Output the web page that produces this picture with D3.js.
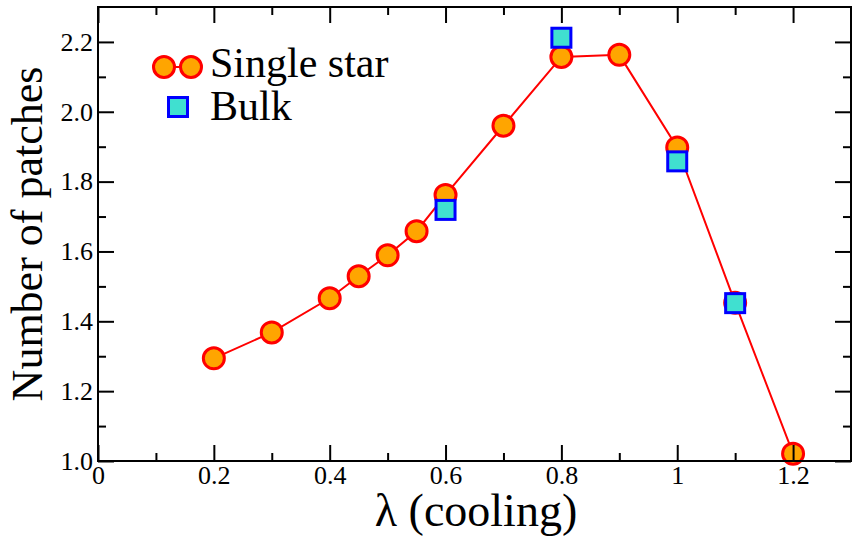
<!DOCTYPE html>
<html>
<head>
<meta charset="utf-8">
<script src="https://cdn.jsdelivr.net/npm/d3@7"></script>
<style>
  body { margin: 0; background: #fff; }
  svg { display: block; font-family: "Liberation Serif", "Times New Roman", serif; }
  .tick text { font-size: 26px; fill: #000; font-family: "Liberation Serif", "Times New Roman", serif; }
  .tick line { stroke: #000; stroke-width: 2; }
</style>
</head>
<body>
<script>
// single star curve
const singleX = [0.2, 0.3, 0.4, 0.45, 0.5, 0.55, 0.6, 0.7, 0.8, 0.9, 1.0, 1.1, 1.2]
const singleY = [1.294, 1.368, 1.466, 1.529, 1.589, 1.658, 1.762, 1.960, 2.157, 2.163, 1.898, 1.453, 1.021]
// bulk points
const bulkX = [0.6, 0.8, 1.0, 1.1]
const bulkY = [1.719, 2.212, 1.858, 1.452]
// ticks
const xTicks = [0, 0.2, 0.4, 0.6, 0.8, 1.0, 1.2]
const xMinor = [0.1, 0.3, 0.5, 0.7, 0.9, 1.1]
const yTicks = [1.0, 1.2, 1.4, 1.6, 1.8, 2.0, 2.2]
const yMinor = [1.1, 1.3, 1.5, 1.7, 1.9, 2.1]

const w = 855
const h = 537
const pL = 98, pR = 851, pT = 7, pB = 461

const xScale = d3.scaleLinear().domain([0, 1.3]).range([pL, pR])
const yScale = d3.scaleLinear().domain([1.0, 2.3]).range([pB, pT])

const svg = d3.select('body').append('svg')
    .attr('width', w)
    .attr('height', h)

const single = singleX.map((x, i) => ({ x: x, y: singleY[i] }))
const bulk = bulkX.map((x, i) => ({ x: x, y: bulkY[i] }))

// red line
svg.append('path')
    .datum(single)
    .attr('fill', 'none')
    .attr('stroke', '#ff0000')
    .attr('stroke-width', 2)
    .attr('d', d3.line().x(d => xScale(d.x)).y(d => yScale(d.y)))

// circles
svg.selectAll('circle.single')
    .data(single)
    .enter()
    .append('circle')
    .attr('class', 'single')
    .attr('cx', d => xScale(d.x))
    .attr('cy', d => yScale(d.y))
    .attr('r', 10.5)
    .style('fill', '#ffa500')
    .style('stroke', '#ff0000')
    .style('stroke-width', 3)

// squares
const sq = 19
svg.selectAll('rect.bulk')
    .data(bulk)
    .enter()
    .append('rect')
    .attr('class', 'bulk')
    .attr('x', d => xScale(d.x) - sq / 2)
    .attr('y', d => yScale(d.y) - sq / 2)
    .attr('width', sq)
    .attr('height', sq)
    .style('fill', '#40e0d0')
    .style('stroke', '#0000ff')
    .style('stroke-width', 3)

// axes, ticks pointing inward on all four sides
function addAxis(axis, tx, ty, labels) {
    const g = svg.append('g')
        .attr('transform', `translate(${tx},${ty})`)
        .call(axis)
    g.select('.domain').remove()
    if (!labels) g.selectAll('text').remove()
    return g
}

addAxis(d3.axisBottom(xScale).tickValues(xTicks).tickSize(-16).tickPadding(5).tickFormat(d3.format('')), 0, pB, true)
addAxis(d3.axisBottom(xScale).tickValues(xMinor).tickSize(-8), 0, pB, false)
addAxis(d3.axisTop(xScale).tickValues(xTicks).tickSize(-16), 0, pT, false)
addAxis(d3.axisTop(xScale).tickValues(xMinor).tickSize(-8), 0, pT, false)

addAxis(d3.axisLeft(yScale).tickValues(yTicks).tickSize(-16).tickPadding(5).tickFormat(d3.format('.1f')), pL, 0, true)
addAxis(d3.axisLeft(yScale).tickValues(yMinor).tickSize(-8), pL, 0, false)
addAxis(d3.axisRight(yScale).tickValues(yTicks).tickSize(-16), pR, 0, false)
addAxis(d3.axisRight(yScale).tickValues(yMinor).tickSize(-8), pR, 0, false)

// frame
svg.append('rect')
    .attr('x', pL)
    .attr('y', pT)
    .attr('width', pR - pL)
    .attr('height', pB - pT)
    .style('fill', 'none')
    .style('stroke', '#000')
    .style('stroke-width', 2)

// axis labels
svg.append('text')
    .attr('x', 476)
    .attr('y', 526)
    .attr('text-anchor', 'middle')
    .style('font-size', '46px')
    .text('λ (cooling)')

svg.append('text')
    .attr('transform', 'translate(42,234) rotate(-90)')
    .attr('text-anchor', 'middle')
    .style('font-size', '44px')
    .text('Number of patches')

// legend
const lgX = 164, lgY = 67
svg.append('line')
    .attr('x1', lgX).attr('x2', lgX + 27)
    .attr('y1', lgY).attr('y2', lgY)
    .style('stroke', '#ff0000')
    .style('stroke-width', 2)
svg.selectAll('circle.leg')
    .data([lgX, lgX + 27])
    .enter()
    .append('circle')
    .attr('class', 'leg')
    .attr('cx', d => d)
    .attr('cy', lgY)
    .attr('r', 10.5)
    .style('fill', '#ffa500')
    .style('stroke', '#ff0000')
    .style('stroke-width', 3)
svg.append('text')
    .attr('x', 210)
    .attr('y', 77)
    .style('font-size', '42px')
    .text('Single star')

svg.append('rect')
    .attr('x', 178 - sq / 2)
    .attr('y', 107 - sq / 2)
    .attr('width', sq)
    .attr('height', sq)
    .style('fill', '#40e0d0')
    .style('stroke', '#0000ff')
    .style('stroke-width', 3)
svg.append('text')
    .attr('x', 210)
    .attr('y', 120)
    .style('font-size', '42px')
    .text('Bulk')
</script>
</body>
</html>
